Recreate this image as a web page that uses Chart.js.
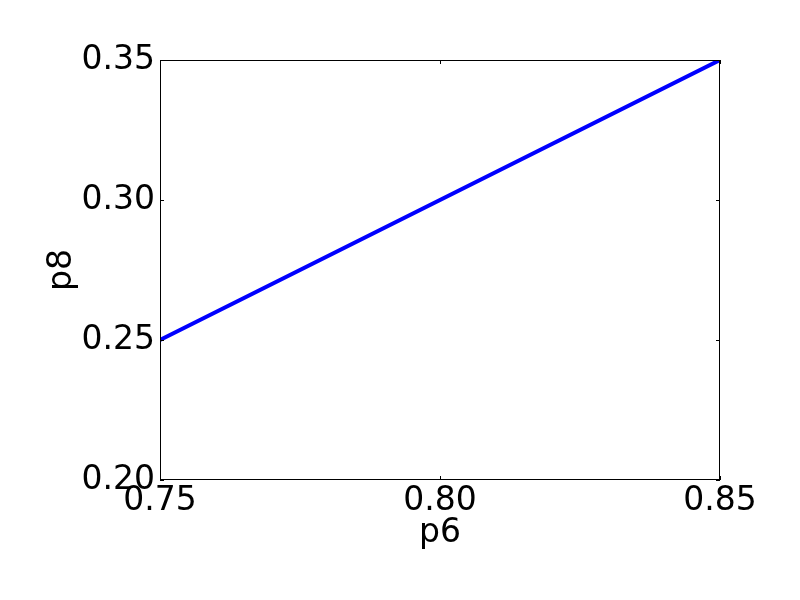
<!DOCTYPE html>
<html>
<head>
<meta charset="utf-8">
<script src="https://cdn.jsdelivr.net/npm/chart.js@4"></script>
<style>
    html, body { margin: 0; padding: 0; background: #fff; }
    #wrap { width: 800px; height: 600px; }
</style>
</head>
<body>
<div id="wrap"><canvas id="chart" width="800" height="600"></canvas></div>
<script>
const xValues = [0.75, 0.85];
const yValues = [0.25, 0.35];
const xTicks = [0.75, 0.80, 0.85];
const yTicks = [0.20, 0.25, 0.30, 0.35];
const xLabel = 'p6';
const yLabel = 'p8';

const FONT = { family: 'DejaVu Sans', size: 33 };

// matplotlib-style frame with inward ticks on all four sides
const frame = {
    id: 'frame',
    afterDatasetsDraw(chart) {
        const { ctx, chartArea: a, scales } = chart;
        ctx.save();
        ctx.strokeStyle = '#000';
        ctx.lineWidth = 1;
        ctx.strokeRect(a.left + 0.5, a.top + 0.5, a.right - a.left - 1, a.bottom - a.top - 1);
        ctx.beginPath();
        xTicks.forEach(v => {
            const px = Math.round(scales.x.getPixelForValue(v)) + 0.5;
            ctx.moveTo(px, a.bottom); ctx.lineTo(px, a.bottom - 4);
            ctx.moveTo(px, a.top); ctx.lineTo(px, a.top + 4);
        });
        yTicks.forEach(v => {
            const py = Math.round(scales.y.getPixelForValue(v)) + 0.5;
            ctx.moveTo(a.left, py); ctx.lineTo(a.left + 4, py);
            ctx.moveTo(a.right, py); ctx.lineTo(a.right - 4, py);
        });
        ctx.stroke();
        ctx.restore();
    }
};

const ctx = document.getElementById('chart').getContext('2d');
new Chart(ctx, {
    type: 'scatter',
    data: {
        datasets: [{
            data: xValues.map((x, i) => ({ x: x, y: yValues[i] })),
            showLine: true,
            borderColor: '#0000ff',
            borderWidth: 4,
            pointRadius: 0,
            fill: false,
            tension: 0
        }]
    },
    options: {
        responsive: false,
        animation: false,
        layout: { padding: { top: 60, right: 80, left: 0, bottom: 0 } },
        plugins: { legend: { display: false }, tooltip: { enabled: false } },
        scales: {
            x: {
                type: 'linear',
                min: 0.75, max: 0.85,
                afterBuildTicks: s => { s.ticks = xTicks.map(v => ({ value: v })); },
                afterFit: s => { s.height = 120; },
                grid: { display: false, drawTicks: false },
                border: { display: false },
                ticks: { color: '#000', font: FONT, padding: 2, maxRotation: 0,
                         callback: v => v.toFixed(2) },
                title: { display: true, text: xLabel, color: '#000', font: FONT,
                         padding: { top: 0, bottom: 47 } }
            },
            y: {
                type: 'linear',
                min: 0.20, max: 0.35,
                afterBuildTicks: s => { s.ticks = yTicks.map(v => ({ value: v })); },
                afterFit: s => { s.width = 160; },
                grid: { display: false, drawTicks: false },
                border: { display: false },
                ticks: { color: '#000', font: FONT, padding: 5,
                         callback: v => v.toFixed(2) },
                title: { display: true, text: yLabel, color: '#000', font: FONT,
                         padding: { top: 43, bottom: 0 } }
            }
        }
    },
    plugins: [frame]
});
</script>
</body>
</html>
